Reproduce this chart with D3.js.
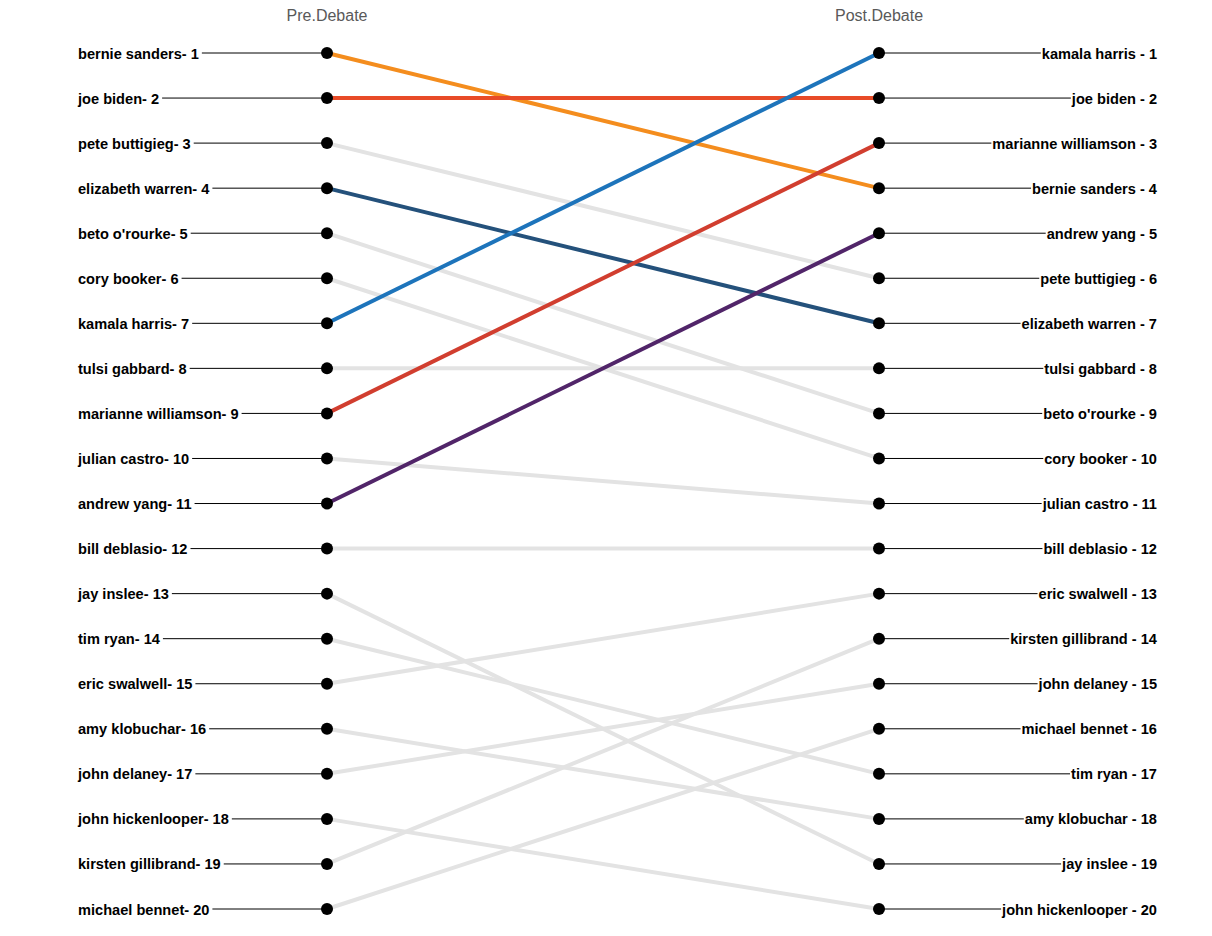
<!DOCTYPE html>
<html>
<head>
<meta charset="utf-8">
<script src="https://cdn.jsdelivr.net/npm/d3@7"></script>
<style>
  body { margin: 0; background: #fff; }
  svg { font-family: "Liberation Sans", Arial, sans-serif; }
</style>
</head>
<body>
<div id="chart"></div>
<script>
// rank order before and after the debate
const preDebate = ['bernie sanders', 'joe biden', 'pete buttigieg', 'elizabeth warren', "beto o'rourke",
  'cory booker', 'kamala harris', 'tulsi gabbard', 'marianne williamson', 'julian castro',
  'andrew yang', 'bill deblasio', 'jay inslee', 'tim ryan', 'eric swalwell',
  'amy klobuchar', 'john delaney', 'john hickenlooper', 'kirsten gillibrand', 'michael bennet'];
const postDebate = ['kamala harris', 'joe biden', 'marianne williamson', 'bernie sanders', 'andrew yang',
  'pete buttigieg', 'elizabeth warren', 'tulsi gabbard', "beto o'rourke", 'cory booker',
  'julian castro', 'bill deblasio', 'eric swalwell', 'kirsten gillibrand', 'john delaney',
  'michael bennet', 'tim ryan', 'amy klobuchar', 'jay inslee', 'john hickenlooper'];
const columns = ['Pre.Debate', 'Post.Debate'];
const highlight = new Map([
  ['bernie sanders', '#f48d1e'],
  ['joe biden', '#e84b27'],
  ['kamala harris', '#1d74bb'],
  ['elizabeth warren', '#24517b'],
  ['marianne williamson', '#d13e2f'],
  ['andrew yang', '#512569']
]);

const width = 1212, height = 936;
const svg = d3.select('#chart').append('svg')
  .attr('width', width).attr('height', height);

const x = d3.scalePoint().domain(columns).range([327, 879]);
const y = d3.scaleLinear().domain([1, 20]).range([53, 909]);

const rows = preDebate.map((name, i) => ({
  name, pre: i + 1, post: postDebate.indexOf(name) + 1
}));

// slope lines, grey first so colours sit on top
const sorted = rows.slice().sort((a, b) => highlight.has(a.name) - highlight.has(b.name));
svg.append('g').selectAll('line')
  .data(sorted)
  .join('line')
  .attr('x1', x('Pre.Debate')).attr('x2', x('Post.Debate'))
  .attr('y1', d => y(d.pre)).attr('y2', d => y(d.post))
  .attr('stroke', d => highlight.get(d.name) || '#e3e3e3')
  .attr('stroke-width', 4);

// headers
svg.append('g').selectAll('text')
  .data(columns)
  .join('text')
  .attr('x', d => x(d)).attr('y', 21)
  .attr('text-anchor', 'middle')
  .attr('fill', '#595959')
  .style('font-size', '16px')
  .text(d => d);

// left labels
const left = svg.append('g');
left.selectAll('text')
  .data(rows)
  .join('text')
  .attr('x', 78).attr('y', d => y(d.pre) + 5.5)
  .style('font-size', '14.6px').style('font-weight', 'bold')
  .text(d => `${d.name}- ${d.pre}`)
  .each(function (d) { d.lw = this.getComputedTextLength(); });
left.selectAll('line')
  .data(rows)
  .join('line')
  .attr('x1', d => 78 + d.lw + 3).attr('x2', x('Pre.Debate'))
  .attr('y1', d => y(d.pre)).attr('y2', d => y(d.pre))
  .attr('stroke', '#000').attr('stroke-width', 1);

// right labels
const right = svg.append('g');
right.selectAll('text')
  .data(rows)
  .join('text')
  .attr('x', 1157).attr('y', d => y(d.post) + 5.5)
  .attr('text-anchor', 'end')
  .style('font-size', '14.6px').style('font-weight', 'bold')
  .text(d => `${d.name} - ${d.post}`)
  .each(function (d) { d.rw = this.getComputedTextLength(); });
right.selectAll('line')
  .data(rows)
  .join('line')
  .attr('x1', x('Post.Debate')).attr('x2', d => 1157 - d.rw - 1)
  .attr('y1', d => y(d.post)).attr('y2', d => y(d.post))
  .attr('stroke', '#000').attr('stroke-width', 1);

// dots
const dots = svg.append('g');
dots.selectAll('circle.pre')
  .data(rows).join('circle').attr('class', 'pre')
  .attr('cx', x('Pre.Debate')).attr('cy', d => y(d.pre)).attr('r', 6);
dots.selectAll('circle.post')
  .data(rows).join('circle').attr('class', 'post')
  .attr('cx', x('Post.Debate')).attr('cy', d => y(d.post)).attr('r', 6);
</script>
</body>
</html>
